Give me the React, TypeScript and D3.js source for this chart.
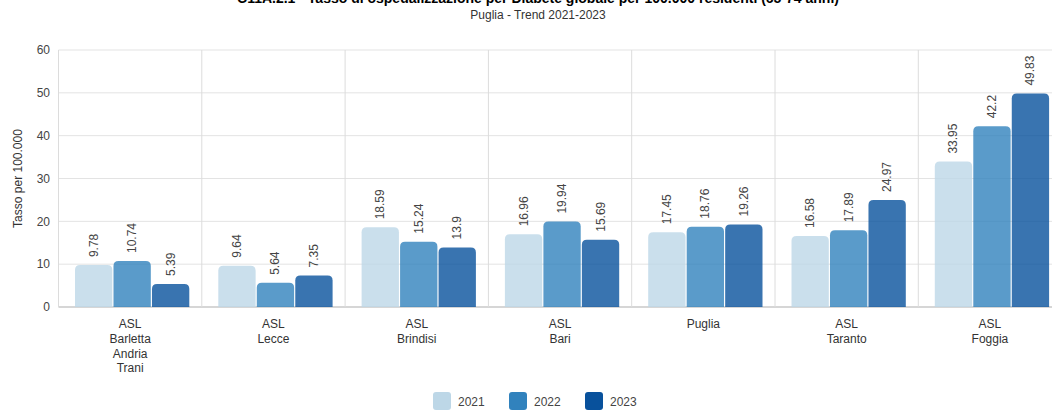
import React from "react";
import * as d3 from "d3";

const categories: string[][] = [
  ["ASL", "Barletta", "Andria", "Trani"],
  ["ASL", "Lecce"],
  ["ASL", "Brindisi"],
  ["ASL", "Bari"],
  ["Puglia"],
  ["ASL", "Taranto"],
  ["ASL", "Foggia"],
];
const years = ["2021", "2022", "2023"];
const values2021 = [9.78, 9.64, 18.59, 16.96, 17.45, 16.58, 33.95];
const values2022 = [10.74, 5.64, 15.24, 19.94, 18.76, 17.89, 42.2];
const values2023 = [5.39, 7.35, 13.9, 15.69, 19.26, 24.97, 49.83];
const yTicks = [0, 10, 20, 30, 40, 50, 60];
const colors = ["#bdd7e7", "#3182bd", "#08519c"];

const W = 1052;
const H = 412;
const FONT = "'Liberation Sans', Arial, sans-serif";

export default function App() {
  const series = [values2021, values2022, values2023];
  const left = 58.5;
  const band = 143.3;
  const x0 = d3
    .scaleBand<number>()
    .domain(d3.range(categories.length))
    .range([left, left + band * categories.length])
    .paddingInner(0)
    .paddingOuter(0);
  const x1 = d3
    .scaleBand<number>()
    .domain(d3.range(years.length))
    .range([16.5, band - 12.5])
    .paddingInner(0.03);
  const y = d3.scaleLinear().domain([0, 60]).range([307, 50]);
  const r = 5;

  const barPath = (x: number, w: number, top: number, bottom: number) => {
    const rr = Math.min(r, (bottom - top), w / 2);
    return `M${x},${bottom}V${top + rr}Q${x},${top} ${x + rr},${top}H${x + w - rr}Q${x + w},${top} ${x + w},${top + rr}V${bottom}Z`;
  };

  return (
    <svg
      width={W}
      height={H}
      style={{ position: "absolute", left: 0, top: 0, fontFamily: FONT }}
    >
      <rect width={W} height={H} fill="#fff" />
      <text x={538} y={3} textAnchor="middle" fontSize={14} fontWeight="bold" fill="#000">
        C11A.2.1 - Tasso di ospedalizzazione per Diabete globale per 100.000 residenti (65-74 anni)
      </text>
      <text x={538} y={19} textAnchor="middle" fontSize={12} fill="#333">
        Puglia - Trend 2021-2023
      </text>

      {yTicks.map((t) => (
        <g key={t}>
          <line
            x1={left}
            x2={left + band * categories.length}
            y1={y(t)}
            y2={y(t)}
            stroke={t === 0 ? "#c8c8c8" : "#e3e3e3"}
            strokeWidth={t === 0 ? 1.5 : 1}
          />
          <text x={50} y={y(t)} dy="0.35em" textAnchor="end" fontSize={12} fill="#444">
            {t}
          </text>
        </g>
      ))}
      {d3.range(categories.length + 1).map((i) => (
        <line
          key={i}
          x1={left + band * i}
          x2={left + band * i}
          y1={y(60)}
          y2={y(0)}
          stroke="#dcdcdc"
        />
      ))}

      <text
        transform={`translate(22,${(y(0) + y(60)) / 2}) rotate(-90)`}
        textAnchor="middle"
        fontSize={12}
        fill="#333"
      >
        Tasso per 100.000
      </text>

      {categories.map((cat, i) => (
        <g key={i}>
          {series.map((vals, s) => {
            const bx = (x0(i) as number) + (x1(s) as number);
            const bw = x1.bandwidth();
            const top = y(vals[i]);
            return (
              <g key={s}>
                <path d={barPath(bx, bw, top, y(0))} fill={colors[s]} fillOpacity={0.8} />
                <text
                  transform={`translate(${bx + bw / 2},${top - 8}) rotate(-90)`}
                  dominantBaseline="central"
                  fontSize={12}
                  fill="#444"
                >
                  {String(vals[i])}
                </text>
              </g>
            );
          })}
          {cat.map((line, k) => (
            <text
              key={k}
              x={(x0(i) as number) + band / 2}
              y={328 + k * 14.8}
              textAnchor="middle"
              fontSize={12}
              fill="#333"
            >
              {line}
            </text>
          ))}
        </g>
      ))}

      {years.map((yr, s) => (
        <g key={yr} transform={`translate(${433 + s * 76},392)`}>
          <rect width={18} height={18} rx={3} fill={colors[s]} />
          <text x={25} y={14} fontSize={12} fill="#444">
            {yr}
          </text>
        </g>
      ))}
    </svg>
  );
}
